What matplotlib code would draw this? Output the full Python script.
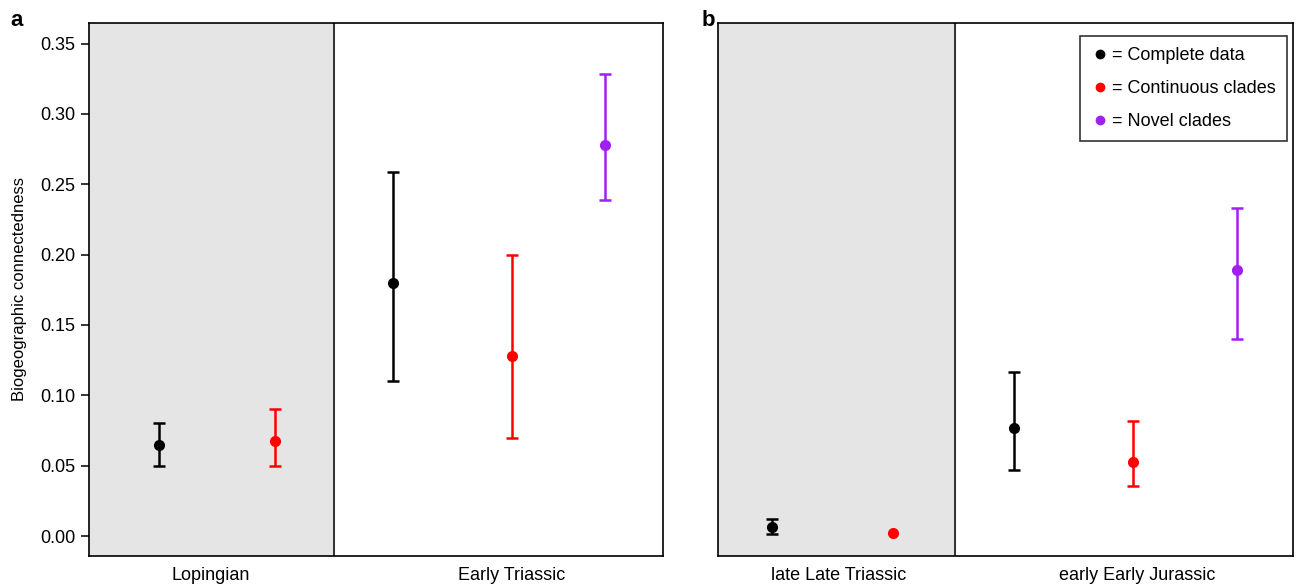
import matplotlib.pyplot as plt
from matplotlib.lines import Line2D

plt.rcParams['font.family'] = ['Liberation Sans', 'DejaVu Sans']

# panel a: Lopingian / Early Triassic
a_x = [0.122, 0.324, 0.530, 0.737, 0.899]
a_mean = [0.065, 0.0675, 0.180, 0.128, 0.278]
a_low = [0.050, 0.050, 0.110, 0.070, 0.2385]
a_high = [0.080, 0.090, 0.259, 0.1997, 0.328]
a_col = ['black', 'red', 'black', 'red', '#a020f0']
a_div = 0.427
a_labels = ['Lopingian', 'Early Triassic']
a_labpos = [0.2125, 0.737]

# panel b: late Late Triassic / early Early Jurassic
b_x = [0.094, 0.304, 0.515, 0.722, 0.903]
b_mean = [0.0064, 0.002, 0.0767, 0.0526, 0.189]
b_low = [0.0014, 0.002, 0.047, 0.0355, 0.140]
b_high = [0.012, 0.002, 0.1165, 0.082, 0.233]
b_col = ['black', 'red', 'black', 'red', '#a020f0']
b_div = 0.412
b_labels = ['late Late Triassic', 'early Early Jurassic']
b_labpos = [0.210, 0.729]

legend_labels = ['= Complete data', '= Continuous clades', '= Novel clades']
legend_cols = ['black', 'red', '#a020f0']

fig = plt.figure(figsize=(12.96, 5.85), dpi=100)
ax1 = fig.add_axes([0.0687, 0.0496, 0.4429, 0.9111])
ax2 = fig.add_axes([0.554, 0.0496, 0.4437, 0.9111])


def draw(ax, xs, mean, low, high, cols, div, labels, labpos):
    ax.axvspan(0, div, color='#e5e5e5', zorder=0)
    ax.axvline(div, color='black', lw=1.1, zorder=1)
    for x, m, lo, hi, c in zip(xs, mean, low, high, cols):
        if hi > lo:
            ax.errorbar(x, m, yerr=[[m - lo], [hi - m]], fmt='none', ecolor=c,
                        elinewidth=1.8, capsize=4.3, capthick=1.8, zorder=2)
        ax.plot(x, m, 'o', color=c, ms=7, zorder=3)
    ax.set_xlim(0, 1)
    ax.set_ylim(-0.0142, 0.3646)
    ax.set_xticks(labpos)
    ax.set_xticklabels(labels, fontsize=13)
    ax.tick_params(axis='x', length=0, pad=8)
    for s in ax.spines.values():
        s.set_linewidth(1.2)


draw(ax1, a_x, a_mean, a_low, a_high, a_col, a_div, a_labels, a_labpos)
draw(ax2, b_x, b_mean, b_low, b_high, b_col, b_div, b_labels, b_labpos)

ax1.set_yticks([0.0, 0.05, 0.10, 0.15, 0.20, 0.25, 0.30, 0.35])
ax1.set_yticklabels(['0.00', '0.05', '0.10', '0.15', '0.20', '0.25', '0.30', '0.35'], fontsize=13)
ax1.tick_params(axis='y', length=6, width=1.1, pad=4)
ax1.set_ylabel('Biogeographic connectedness', fontsize=12, labelpad=9)
ax2.set_yticks([])

handles = [Line2D([], [], marker='o', ls='none', color=c, ms=6) for c in legend_cols]
leg = ax2.legend(handles, legend_labels, loc='upper right', fontsize=13,
                 frameon=True, fancybox=False, handletextpad=0.2, handlelength=1.0,
                 borderpad=0.6, labelspacing=0.9, borderaxespad=0,
                 bbox_to_anchor=(0.9896, 0.9756))
leg.get_frame().set_edgecolor('black')
leg.get_frame().set_linewidth(1.2)

fig.text(0.008, 0.965, 'a', fontsize=16, fontweight='bold', va='center')
fig.text(0.541, 0.965, 'b', fontsize=16, fontweight='bold', va='center')

fig.savefig('out.png', dpi=100)
